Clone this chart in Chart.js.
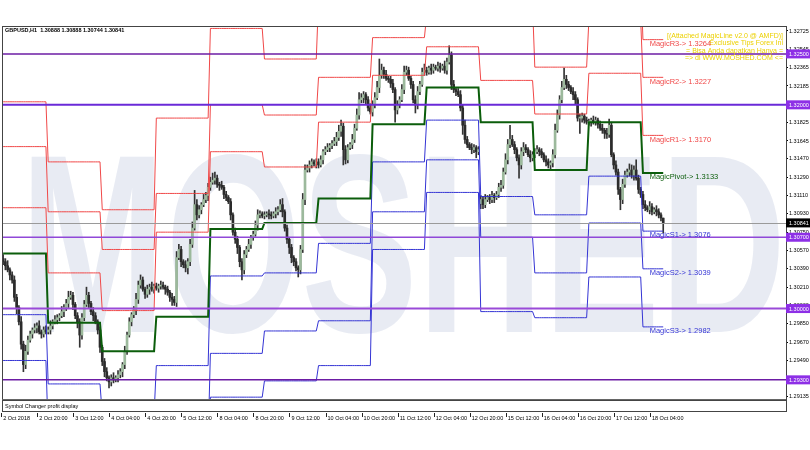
<!DOCTYPE html>
<html>
<head>
<meta charset="utf-8">
<script src="https://cdn.jsdelivr.net/npm/chart.js@4.4.0/dist/chart.umd.min.js"></script>
<style>
html, body { margin: 0; padding: 0; background: #fff; }
</style>
</head>
<body>
<canvas id="gbpChart" width="810" height="450"></canvas>
<script>
// GBPUSD H1, first bar = 2 Oct 04:00
const xTickLabels = ['2 Oct 2018', '2 Oct 20:00', '3 Oct 12:00', '4 Oct 04:00', '4 Oct 20:00', '5 Oct 12:00',
    '8 Oct 04:00', '8 Oct 20:00', '9 Oct 12:00', '10 Oct 04:00', '10 Oct 20:00', '11 Oct 12:00',
    '12 Oct 04:00', '12 Oct 20:00', '15 Oct 12:00', '16 Oct 04:00', '16 Oct 20:00', '17 Oct 12:00', '18 Oct 04:00'];
const yTicks = [1.32725, 1.32545, 1.32365, 1.32185, 1.32005, 1.31825, 1.31645, 1.3147, 1.3129, 1.3111,
    1.3093, 1.3075, 1.3057, 1.3039, 1.3021, 1.3003, 1.2985, 1.2967, 1.2949, 1.2931, 1.29135];

const closes = [
    1.3046,1.3042,1.3038,1.3033,1.3028,1.3011,1.3001,1.2987,1.2965,1.2945,1.2958,1.2969,1.2975,1.2979,1.2981,1.2983,1.2977,1.2975,1.2979,1.2977,
    1.2979,1.2983,1.2987,1.2989,1.2991,1.2993,1.2997,1.3001,1.3005,1.3011,1.3013,1.3004,1.2993,1.2987,1.2974,1.2991,1.3004,1.3013,1.3005,1.2997,1.2993,1.2987,1.2979,1.2962,
    1.2948,1.2938,1.2932,1.2928,1.2932,1.2930,1.2932,1.2935,1.2938,1.2945,1.2958,1.2974,1.2987,1.2994,1.2999,1.3009,1.3023,1.3028,1.3019,1.3014,1.3019,1.3021,1.3019,1.3022,
    1.3020,1.3022,1.3023,1.3021,1.3019,1.3016,1.3011,1.3009,1.3006,1.3050,1.3058,1.3046,1.3043,1.3040,1.3046,1.3063,1.3079,1.3102,1.3092,1.3097,1.3102,1.3107,1.3111,1.3119,
    1.3124,1.3126,1.3128,1.3122,1.3121,1.3119,1.3112,1.3109,1.3105,1.3092,1.3075,1.3068,1.3060,1.3046,1.3038,1.3053,1.3058,1.3063,1.3070,1.3073,1.3082,1.3092,1.3093,1.3091,
    1.3092,1.3093,1.3092,1.3091,1.3093,1.3095,1.3097,1.3102,1.3095,1.3079,1.3068,1.3060,1.3050,1.3046,1.3040,1.3038,1.3058,1.3107,1.3136,1.3138,1.3141,1.3144,1.3142,1.3144,
    1.3141,1.3146,1.3154,1.3156,1.3158,1.3160,1.3162,1.3164,1.3168,1.3174,1.3179,1.3156,1.3146,1.3158,1.3161,1.3166,1.3177,1.3190,1.3205,1.3207,1.3210,1.3205,1.3197,1.3193,
    1.3200,1.3207,1.3217,1.3229,1.3234,1.3230,1.3226,1.3225,1.3221,1.3215,1.3195,1.3200,1.3205,1.3215,1.3232,1.3234,1.3226,1.3220,1.3205,1.3200,1.3213,1.3220,1.3232,1.3234,
    1.3232,1.3236,1.3234,1.3237,1.3236,1.3238,1.3236,1.3238,1.3234,1.3242,1.3249,1.3220,1.3215,1.3213,1.3210,1.3197,1.3180,1.3166,1.3161,1.3158,1.3156,1.3158,1.3154,1.3156,
    1.3107,1.3102,1.3107,1.3109,1.3107,1.3111,1.3109,1.3112,1.3119,1.3121,1.3134,1.3146,1.3161,1.3166,1.3161,1.3156,1.3148,1.3141,1.3154,1.3158,1.3156,1.3151,1.3148,1.3151,
    1.3154,1.3156,1.3154,1.3151,1.3146,1.3144,1.3141,1.3143,1.3151,1.3175,1.3190,1.3205,1.3217,1.3225,1.3220,1.3217,1.3213,1.3210,1.3205,1.3187,1.3187,1.3189,1.3185,1.3183,
    1.3183,1.3185,1.3183,1.3185,1.3181,1.3177,1.3175,1.3172,1.3171,1.3180,1.3151,1.3141,1.3134,1.3117,1.3107,1.3122,1.3131,1.3134,1.3136,1.3131,1.3136,1.3128,1.3117,1.3112,
    1.3102,1.3099,1.3097,1.3100,1.3095,1.3097,1.3095,1.3092,1.3089,1.30841
];
// wick length above / below the body, in pips
const upperWick = [
    4,3,5,2,3,4,3,2,5,3,6,4,3,2,4,3,5,2,3,4,
    3,5,2,4,3,2,5,3,4,6,4,3,2,3,3,4,4,8,3,2,4,3,2,3,
    2,3,4,2,3,5,2,4,3,2,5,3,4,2,3,6,4,5,3,2,4,3,5,2,
    3,2,4,3,2,3,2,4,3,6,5,3,2,4,3,5,6,14,5,4,2,5,3,4,
    5,7,6,3,2,4,2,3,2,3,2,4,3,2,3,4,3,5,2,3,4,5,3,2,
    3,2,4,3,2,4,3,5,6,2,3,2,3,2,3,2,4,6,5,3,4,3,2,3,
    3,4,2,3,4,2,3,4,5,6,6,3,4,3,2,5,4,6,7,4,3,2,3,4,
    4,5,6,16,6,3,4,2,3,4,2,4,3,5,6,4,3,2,3,4,5,3,4,6,
    3,2,4,3,2,4,3,2,5,4,9,3,4,2,3,4,3,5,3,2,4,3,2,3,
    4,3,5,2,3,4,2,3,4,5,4,6,5,14,4,3,2,3,4,5,3,2,4,3,
    3,4,2,3,2,4,3,2,5,6,5,4,6,11,4,3,2,4,3,2,4,3,2,3,
    3,2,4,3,2,3,4,2,5,6,3,2,4,3,2,5,4,3,6,5,4,10,3,2,
    3,4,2,5,3,2,4,3,2,0
];
const lowerWick = [
    3,4,2,5,3,4,6,3,5,7,4,3,2,4,3,5,2,4,3,2,
    2,4,3,2,4,3,2,5,3,4,2,5,3,6,12,4,3,2,4,3,5,2,4,5,
    4,5,3,6,4,3,2,4,3,5,4,3,2,4,3,5,4,3,2,4,3,5,2,4,
    2,4,3,2,5,3,4,6,3,4,2,5,3,4,6,4,3,2,5,3,4,2,3,5,
    3,2,4,3,5,2,4,3,2,5,3,4,6,5,10,4,3,2,4,3,2,5,3,2,
    3,2,4,3,2,4,3,2,5,3,4,6,5,4,3,7,4,3,5,2,4,3,2,4,
    3,2,4,3,2,4,3,2,4,3,5,15,4,3,2,4,3,2,4,3,5,4,3,2,
    4,3,2,5,3,4,2,3,4,3,12,4,3,2,4,3,2,4,3,8,4,3,2,3,
    3,2,4,3,2,3,4,2,3,4,2,5,3,4,2,3,9,4,3,2,4,3,6,3,
    5,4,3,2,4,3,5,2,3,4,3,2,4,3,2,4,3,13,4,4,3,2,4,3,
    3,2,4,3,2,4,3,5,4,3,2,4,3,2,4,3,2,5,4,3,15,4,3,2,
    3,4,2,3,4,2,3,5,4,3,2,4,3,5,10,4,3,2,4,3,5,2,4,3,
    4,3,2,4,3,2,4,3,3,10
];
// opens that are not the previous close (first bar, monday gap, last bar)
const openOverrides = [[0, 1.3049], [212, 1.3103], [293, 1.30888]];

// daily MagicLine levels, one value per day starting at these bars
const dayStart = [0, 20, 44, 68, 92, 116, 140, 164, 188, 212, 236, 260, 284];
const r3 = [1.3203, 1.3144, 1.3097, 1.3187, 1.3275, 1.3245, 1.3303, 1.3315, 1.3327, 1.3337, 1.3294, 1.3329, 1.3264];
const r2 = [1.3159, 1.3095, 1.3058, 1.3113, 1.3200, 1.3190, 1.3227, 1.3266, 1.3288, 1.3297, 1.3237, 1.3283, 1.3227];
const r1 = [1.3099, 1.3035, 1.2998, 1.3075, 1.3154, 1.3139, 1.3183, 1.3229, 1.3257, 1.3224, 1.3191, 1.3231, 1.3170];
const pivot = [1.3054, 1.2986, 1.2958, 1.2992, 1.3078, 1.3084, 1.3108, 1.3181, 1.3217, 1.3183, 1.3136, 1.3183, 1.3133];
const s1 = [1.2994, 1.2926, 1.2896, 1.2944, 1.3032, 1.3035, 1.3064, 1.3144, 1.3185, 1.3110, 1.3092, 1.3130, 1.3076];
const s2 = [1.2949, 1.2877, 1.2854, 1.2871, 1.2956, 1.2978, 1.2988, 1.3095, 1.3146, 1.3070, 1.3035, 1.3084, 1.3039];
const s3 = [1.2889, 1.2817, 1.2794, 1.2823, 1.2913, 1.2929, 1.2944, 1.3058, 1.3114, 1.2997, 1.2991, 1.3031, 1.2982];

const levelLines = [1.325, 1.32, 1.307, 1.30, 1.293];
const lastPrice = 1.30841;
const headerText = 'GBPUSD,H1  1.30888 1.30888 1.30744 1.30841';
const adText = ['[(Attached MagicLine v2.0 @ AMFD)]', 'Exclusive Tips Forex Ini', '= Bisa Anda dapatkan Hanya =', '=> di WWW.MOSHED.COM <='];
const subTitle = 'Symbol Changer profit display';
const watermark = 'MOSHED';

const SLOTS = 348;   // bars + empty space on the right (chart shift)
const slots = Array.from({ length: SLOTS }, (_, i) => i);
const nBars = closes.length;

const opens = closes.map((c, i) => i === 0 ? c : closes[i - 1]);
openOverrides.forEach(([i, o]) => { opens[i] = o; });
const highs = closes.map((c, i) => Math.max(opens[i], c) + upperWick[i] / 10000);
const lows = closes.map((c, i) => Math.min(opens[i], c) - lowerWick[i] / 10000);

function dayOf(i) {
    let d = 0;
    for (let k = 0; k < dayStart.length; k++) if (i >= dayStart[k]) d = k;
    return d;
}
const stepData = arr => slots.map(i => i < nBars ? arr[dayOf(i)] : null);
const barData = (a, b) => slots.map(i => i < nBars ? [a[i], b[i]] : null);

const lineSet = (arr, color, width) => ({
    type: 'line', data: stepData(arr), borderColor: color, borderWidth: width,
    pointRadius: 0, tension: 0, clip: 0, order: 1
});

const FONT = 'Liberation Sans';
const RED = '#f04848', GREEN = '#0b5d0b', BLUE = '#3434d4';
const levelStyle = [['#6c1ca4', 1.5], ['#6a2ad8', 2], ['#9048d8', 1.5], ['#9a4ad8', 2], ['#6c1ca4', 1.5]];

const mtPlugin = {
    id: 'mt4',
    beforeDatasetsDraw(chart) {
        const { ctx, chartArea: a } = chart;
        ctx.save();
        ctx.beginPath();
        ctx.rect(a.left, a.top, a.right - a.left, a.bottom - a.top);
        ctx.clip();
        ctx.fillStyle = 'rgba(190,200,222,0.36)';
        ctx.font = 'bold 255px "' + FONT + '"';
        ctx.textBaseline = 'alphabetic';
        ctx.fillText(watermark, 20, 332, 766);
        ctx.restore();
    },
    afterDatasetsDraw(chart) {
        const { ctx, chartArea: a, scales: { x, y } } = chart;
        ctx.save();
        ctx.beginPath();
        ctx.rect(a.left, a.top, a.right - a.left, a.bottom - a.top);
        ctx.clip();
        // last price line
        let py = Math.round(y.getPixelForValue(lastPrice)) + 0.5;
        ctx.strokeStyle = '#9a9a9a';
        ctx.lineWidth = 1;
        ctx.beginPath(); ctx.moveTo(a.left, py); ctx.lineTo(a.right, py); ctx.stroke();
        // horizontal levels
        levelLines.forEach((v, k) => {
            const yy = y.getPixelForValue(v);
            ctx.strokeStyle = levelStyle[k][0];
            ctx.lineWidth = levelStyle[k][1];
            ctx.beginPath(); ctx.moveTo(a.left, yy); ctx.lineTo(a.right, yy); ctx.stroke();
        });
        // header
        ctx.fillStyle = '#000';
        ctx.font = 'bold 5.5px "' + FONT + '"';
        ctx.textBaseline = 'top';
        ctx.textAlign = 'left';
        ctx.fillText(headerText, 5, 28);
        // yellow ad text
        ctx.fillStyle = '#ecd000';
        ctx.font = '7px "' + FONT + '"';
        ctx.textAlign = 'right';
        ctx.textBaseline = 'middle';
        adText.forEach((t, k) => ctx.fillText(t, 783, 36 + k * 7.5));
        // pivot labels
        const d = dayStart.length - 1;
        const lx = x.getPixelForValue(287);
        const names = [['MagicR3-> ', r3, RED], ['MagicR2-> ', r2, RED], ['MagicR1-> ', r1, RED],
            ['MagicPivot-> ', pivot, GREEN], ['MagicS1-> ', s1, BLUE], ['MagicS2-> ', s2, BLUE], ['MagicS3-> ', s3, BLUE]];
        ctx.font = '7.5px "' + FONT + '"';
        ctx.textAlign = 'left';
        ctx.textBaseline = 'top';
        names.forEach(([n, arr, c]) => {
            ctx.fillStyle = c;
            ctx.fillText(n + arr[d].toFixed(4), lx, y.getPixelForValue(arr[d]) + 0.5);
        });
        ctx.restore();
    },
    afterDraw(chart) {
        const { ctx, chartArea: a, scales: { x, y } } = chart;
        ctx.save();
        // frame of main window
        ctx.strokeStyle = '#444';
        ctx.lineWidth = 1;
        ctx.strokeRect(a.left + 0.5, a.top + 0.5, a.right - a.left, a.bottom - a.top);
        ctx.strokeStyle = '#666';
        ctx.lineWidth = 2;
        ctx.beginPath(); ctx.moveTo(a.left, a.bottom + 1); ctx.lineTo(a.right, a.bottom + 1); ctx.stroke();
        // sub window
        ctx.lineWidth = 1;
        ctx.strokeStyle = '#444';
        ctx.strokeRect(a.left + 0.5, a.bottom + 1.5, a.right - a.left, 11);
        ctx.fillStyle = '#000';
        ctx.font = '5.5px "' + FONT + '"';
        ctx.textBaseline = 'middle';
        ctx.textAlign = 'left';
        ctx.fillText(subTitle, 5, a.bottom + 7.5);
        // x tick marks
        ctx.strokeStyle = '#222';
        xTickLabels.forEach((t, k) => {
            const px = Math.round(x.getPixelForValue(k * 16)) - 1.5;
            ctx.beginPath(); ctx.moveTo(px, a.bottom + 14); ctx.lineTo(px, a.bottom + 18); ctx.stroke();
        });
        // price boxes on the right axis
        const box = (v, bg) => {
            const yy = y.getPixelForValue(v);
            ctx.fillStyle = bg;
            ctx.fillRect(a.right, yy - 4.5, 24, 9);
            ctx.fillStyle = '#fff';
            ctx.font = '5.5px "' + FONT + '"';
            ctx.textBaseline = 'middle';
            ctx.fillText(v.toFixed(5), a.right + 3, yy + 0.5);
        };
        levelLines.forEach(v => box(v, '#8d2fe6'));
        box(lastPrice, '#000');
        ctx.restore();
    }
};

new Chart(document.getElementById('gbpChart'), {
    type: 'bar',
    data: {
        labels: slots,
        datasets: [
            lineSet(r3, RED, 1), lineSet(r2, RED, 1), lineSet(r1, RED, 1),
            lineSet(pivot, GREEN, 2),
            lineSet(s1, BLUE, 1), lineSet(s2, BLUE, 1), lineSet(s3, BLUE, 1),
            {
                type: 'bar', data: barData(lows, highs), backgroundColor: '#333',
                barThickness: 1, grouped: false, order: 6
            },
            {
                type: 'bar', data: barData(opens, closes),
                backgroundColor: slots.map(i => i < nBars && closes[i] >= opens[i] ? '#9cb99c' : '#2b2b2b'),
                barThickness: 2, minBarLength: 1, grouped: false, order: 5
            }
        ]
    },
    options: {
        responsive: false,
        animation: false,
        layout: { padding: { left: 2, top: 26, right: 0, bottom: 0 } },
        plugins: { legend: { display: false }, tooltip: { enabled: false } },
        scales: {
            x: {
                type: 'category',
                offset: true,
                grid: { display: true, drawOnChartArea: false, drawTicks: true, tickLength: 16, color: 'rgba(0,0,0,0)' },
                border: { display: false },
                afterFit: s => { s.height = 51; },
                ticks: {
                    autoSkip: false, maxRotation: 0, minRotation: 0, align: 'start', padding: 0,
                    color: '#000', font: { family: FONT, size: 5.5 },
                    callback: (v, i) => (i % 16 === 0 && xTickLabels[i / 16]) ? xTickLabels[i / 16] : null
                }
            },
            y: {
                position: 'right',
                min: 1.29112,
                max: 1.32774,
                afterBuildTicks: s => { s.ticks = yTicks.map(v => ({ value: v })); },
                afterFit: s => { s.width = 24; },
                grid: { drawOnChartArea: false, drawTicks: true, tickLength: 2, color: '#000' },
                border: { display: false },
                ticks: {
                    autoSkip: false, padding: 1, color: '#000', font: { family: FONT, size: 5.5 },
                    callback: v => v.toFixed(5)
                }
            }
        }
    },
    plugins: [mtPlugin]
});
</script>
</body>
</html>
